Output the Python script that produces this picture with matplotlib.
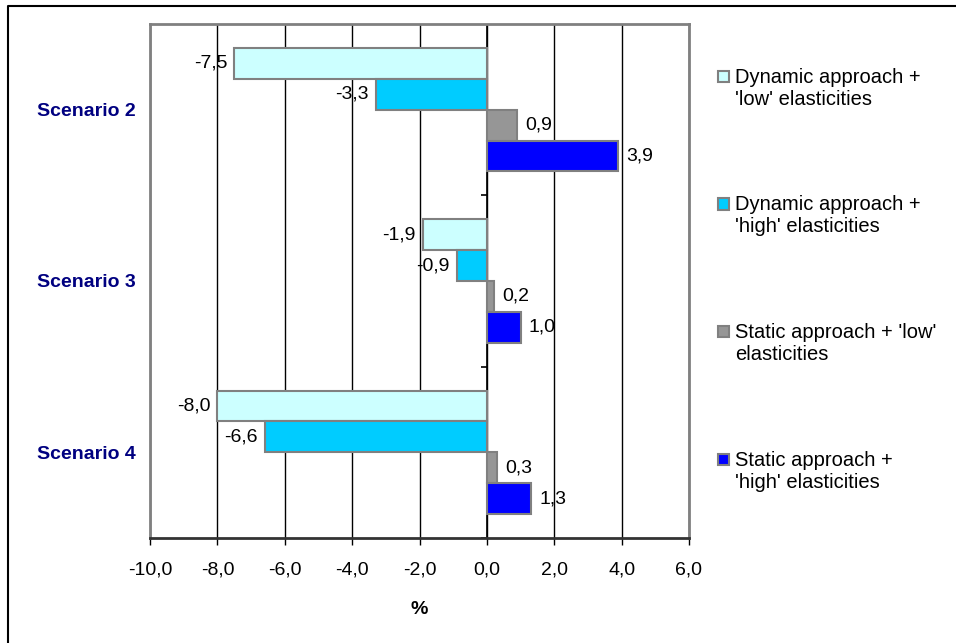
import numpy as np
import matplotlib.pyplot as plt
from matplotlib.lines import Line2D
from matplotlib.patches import Rectangle

plt.rcParams['font.family'] = ['Liberation Sans', 'DejaVu Sans']

scenarios = ["Scenario 2", "Scenario 3", "Scenario 4"]
series = ["Dynamic approach +\n'low' elasticities",
          "Dynamic approach +\n'high' elasticities",
          "Static approach + 'low'\nelasticities",
          "Static approach +\n'high' elasticities"]
dyn_low = [-7.5, -1.9, -8.0]
dyn_high = [-3.3, -0.9, -6.6]
stat_low = [0.9, 0.2, 0.3]
stat_high = [3.9, 1.0, 1.3]
colors = ["#CCFFFF", "#00CCFF", "#969696", "#0000FF"]
xticks = [-10, -8, -6, -4, -2, 0, 2, 4, 6]

fs = 14

fig = plt.figure(figsize=(9.56, 6.43), dpi=100)
ax = fig.add_axes([150 / 956, 1 - 538 / 643, 539 / 956, 514 / 643])

y = np.arange(len(scenarios))
h = 0.18
offsets = [-1.5 * h, -0.5 * h, 0.5 * h, 1.5 * h]
for vals, off, col in zip([dyn_low, dyn_high, stat_low, stat_high], offsets, colors):
    bars = ax.barh(y + off, vals, height=h, color=col, edgecolor="#808080",
                   linewidth=1.5, zorder=3)
    for b, v in zip(bars, vals):
        txt = f"{v:.1f}".replace(".", ",")
        if v < 0:
            ax.annotate(txt, (v, b.get_y() + h / 2), xytext=(-5, 0),
                        textcoords="offset points", ha="right", va="center",
                        fontsize=fs, zorder=4)
        else:
            ax.annotate(txt, (v, b.get_y() + h / 2), xytext=(6, 0),
                        textcoords="offset points", ha="left", va="center",
                        fontsize=fs, zorder=4)

ax.set_xlim(-10, 6)
ax.set_ylim(2.5, -0.5)
ax.set_xticks(xticks)
ax.set_xticklabels([f"{t:.1f}".replace(".", ",") for t in xticks], fontsize=fs)
ax.set_yticks(y)
ax.set_yticklabels(scenarios, fontsize=fs, fontweight="bold", color="#000080")
ax.tick_params(axis="y", length=0, pad=10)
ax.tick_params(axis="x", length=5, width=1, color="black", pad=12, direction="out")
ax.grid(axis="x", color="black", linewidth=1, zorder=1)
ax.set_axisbelow(True)
for s in ["left", "right", "top"]:
    ax.spines[s].set_color("#808080")
    ax.spines[s].set_linewidth(2)
ax.spines["bottom"].set_color("#333333")
ax.spines["bottom"].set_linewidth(2)
ax.set_xlabel("%", fontsize=fs, fontweight="bold", labelpad=16)

# zero axis with category tick marks
ax.axvline(0, color="black", linewidth=1.2, zorder=2)
ax.hlines(np.arange(-0.5, len(scenarios)), -0.18, 0, color="black", linewidth=1.2, zorder=2)

# legend drawn by hand to keep Excel-like spacing
for i, (lab, col) in enumerate(zip(series, colors)):
    top = 70 + i * 127.5
    fig.patches.append(Rectangle((718 / 956, 1 - (top + 12) / 643), 11 / 956, 11 / 643,
                                 transform=fig.transFigure, facecolor=col,
                                 edgecolor="#808080", linewidth=1.5))
    fig.text(735 / 956, 1 - (top - 2) / 643, lab, fontsize=14.5, va="top", ha="left",
             linespacing=1.2)

# outer chart border (top and left visible)
fig.add_artist(Line2D([7.5 / 956, 7.5 / 956, 1.0], [0.0, 1 - 5.5 / 643, 1 - 5.5 / 643],
                      transform=fig.transFigure, color="black", linewidth=1.5))

fig.savefig("out.png", dpi=100)
